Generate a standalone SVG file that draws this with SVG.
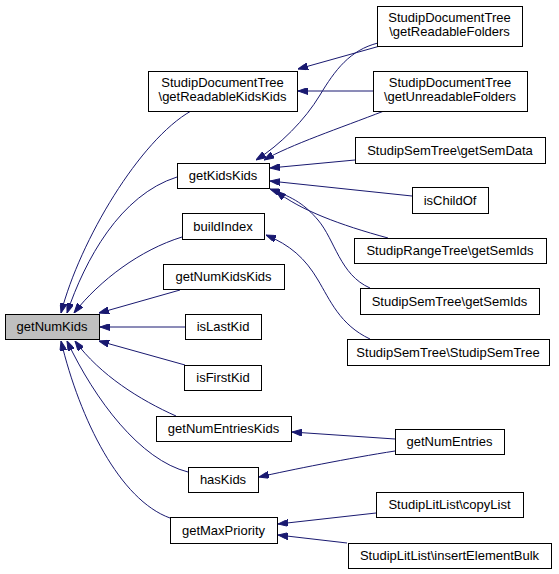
<svg xmlns="http://www.w3.org/2000/svg" width="559" height="574" viewBox="0 0 559 574">
<style>
.n rect{fill:#fff;stroke:#000;stroke-width:1}
.n text{font-family:"Liberation Sans",Arial,Helvetica,sans-serif;font-size:13px;fill:#000;text-anchor:middle}
.e path{fill:none;stroke:#191970;stroke-width:1;marker-end:url(#ah)}
</style>
<defs>
<marker id="ah" viewBox="0 0 10 7" refX="10" refY="3.5" markerWidth="10" markerHeight="7" markerUnits="userSpaceOnUse" orient="auto">
<path d="M0,0 L10,3.5 L0,7 z" fill="#191970" stroke="#191970" stroke-width="1"/>
</marker>
</defs>
<rect width="559" height="574" fill="#fff"/>
<g id="edges" class="e">
<path d="M191,111 C140,140 80,240 61,313"/>
<path d="M177,177 C120,195 85,260 67,313"/>
<path d="M182,237 C140,250 100,280 74,313"/>
<path d="M180,290 L99,313"/>
<path d="M185,327 L100,327"/>
<path d="M185,365 L99,341"/>
<path d="M176,416 C140,400 100,375 75,341"/>
<path d="M188,472 C140,460 95,400 67,341"/>
<path d="M170,518 C120,500 80,420 61,341"/>
<path d="M378,43 C350,50 335,70 320,95 C305,120 280,145 256,160"/>
<path d="M384,111 C340,128 290,145 264,160"/>
<path d="M355,160 L270,168"/>
<path d="M412,196 L270,181"/>
<path d="M388,238 C340,225 300,210 276,191"/>
<path d="M370,288 C340,275 335,240 318,220 C305,205 295,198 270,189"/>
<path d="M370,339 C340,325 330,300 318,280 C305,258 290,245 266,235"/>
<path d="M380,46 L298,69"/>
<path d="M373,91 L298,91"/>
<path d="M395,439 L292,432"/>
<path d="M395,451 C350,458 290,470 259,477"/>
<path d="M376,513 L278,524"/>
<path d="M347,543 L278,535"/>
</g>
<g id="getNumKids" class="n"><rect x="5.5" y="314.5" width="94" height="25" style="fill:#bfbfbf"/><text x="52" y="331">getNumKids</text></g>
<g id="getReadableKidsKids" class="n"><rect x="148.5" y="71.5" width="149" height="40"/><text x="222.5" y="87">StudipDocumentTree</text><text x="222.5" y="101">\getReadableKidsKids</text></g>
<g id="getKidsKids" class="n"><rect x="177.5" y="163.5" width="92" height="25"/><text x="223" y="180">getKidsKids</text></g>
<g id="buildIndex" class="n"><rect x="182.5" y="213.5" width="82" height="26"/><text x="223" y="230.5">buildIndex</text></g>
<g id="getNumKidsKids" class="n"><rect x="163.5" y="264.5" width="121" height="25"/><text x="223.5" y="281">getNumKidsKids</text></g>
<g id="isLastKid" class="n"><rect x="185.5" y="314.5" width="76" height="25"/><text x="223" y="331">isLastKid</text></g>
<g id="isFirstKid" class="n"><rect x="184.5" y="365.5" width="77" height="25"/><text x="223" y="382">isFirstKid</text></g>
<g id="getNumEntriesKids" class="n"><rect x="156.5" y="416.5" width="135" height="25"/><text x="223.5" y="433">getNumEntriesKids</text></g>
<g id="hasKids" class="n"><rect x="188.5" y="467.5" width="70" height="25"/><text x="223" y="484">hasKids</text></g>
<g id="getMaxPriority" class="n"><rect x="170.5" y="517.5" width="107" height="26"/><text x="223.5" y="534.5">getMaxPriority</text></g>
<g id="getReadableFolders" class="n"><rect x="377.5" y="6.5" width="145" height="40"/><text x="449.5" y="22">StudipDocumentTree</text><text x="449.5" y="36">\getReadableFolders</text></g>
<g id="getUnreadableFolders" class="n"><rect x="373.5" y="71.5" width="154" height="40"/><text x="450" y="87">StudipDocumentTree</text><text x="450" y="101">\getUnreadableFolders</text></g>
<g id="getSemData" class="n"><rect x="355.5" y="137.5" width="190" height="26"/><text x="450" y="154.5">StudipSemTree\getSemData</text></g>
<g id="isChildOf" class="n"><rect x="412.5" y="187.5" width="76" height="26"/><text x="450" y="204.5">isChildOf</text></g>
<g id="rangeGetSemIds" class="n"><rect x="354.5" y="238.5" width="192" height="25"/><text x="450" y="255">StudipRangeTree\getSemIds</text></g>
<g id="semGetSemIds" class="n"><rect x="360.5" y="288.5" width="179" height="26"/><text x="449.5" y="305.5">StudipSemTree\getSemIds</text></g>
<g id="StudipSemTree" class="n"><rect x="347.5" y="339.5" width="202" height="26"/><text x="448" y="356.5">StudipSemTree\StudipSemTree</text></g>
<g id="getNumEntries" class="n"><rect x="395.5" y="429.5" width="109" height="25"/><text x="449.5" y="446">getNumEntries</text></g>
<g id="copyList" class="n"><rect x="376.5" y="492.5" width="147" height="25"/><text x="449.5" y="509">StudipLitList\copyList</text></g>
<g id="insertElementBulk" class="n"><rect x="348.5" y="543.5" width="203" height="25"/><text x="449.5" y="560">StudipLitList\insertElementBulk</text></g>
</svg>
